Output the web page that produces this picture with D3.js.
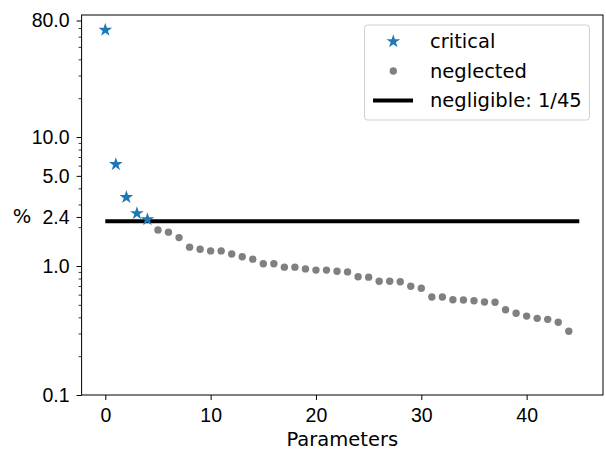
<!DOCTYPE html>
<html>
<head>
<meta charset="utf-8">
<script src="https://cdn.jsdelivr.net/npm/d3@7"></script>
<style>
  body { margin: 0; background: #fff; }
  svg { display: block; font-family: "DejaVu Sans", sans-serif; }
</style>
</head>
<body>
<script>
// parameter shares (%)
const criticalIdx = [0, 1, 2, 3, 4];
const criticalVals = [67.5, 6.14, 3.41, 2.56, 2.30];

const neglectedIdx = d3.range(5, 45);
const neglectedVals = [1.90, 1.83, 1.66, 1.40, 1.35, 1.31, 1.31, 1.24, 1.18, 1.13,
  1.04, 1.04, 0.98, 0.98, 0.95, 0.93, 0.93, 0.91, 0.90, 0.826,
  0.82, 0.761, 0.761, 0.756, 0.697, 0.672, 0.575, 0.575, 0.548, 0.545,
  0.538, 0.526, 0.524, 0.458, 0.43, 0.409, 0.393, 0.386, 0.366, 0.312];

const negligible = 100 / 45;
const xTicks = [0, 10, 20, 30, 40];
const yTicks = [0.1, 1.0, 2.4, 5.0, 10.0, 80.0];
const yMinor = [0.2, 0.3, 0.4, 0.5, 0.6, 0.7, 0.8, 0.9, 2, 3, 4, 6, 7, 8, 9, 20, 30, 40, 50, 60, 70];

const width = 606, height = 453;
const plotLeft = 81.6, plotRight = 603, plotTop = 15, plotBottom = 395;
const fs = 19.5;

const svg = d3.select("body").append("svg")
  .attr("width", width)
  .attr("height", height);

const x = d3.scaleLinear().domain([-2.25, 47.25]).range([plotLeft, plotRight]);
const y = d3.scaleLog().domain([0.1, 88.3]).range([plotBottom, plotTop]);

// x axis
const xAxis = svg.append("g")
  .attr("transform", `translate(0,${plotBottom})`)
  .call(d3.axisBottom(x).tickValues(xTicks).tickSize(5).tickPadding(8).tickFormat(d3.format("d")));
xAxis.select(".domain").remove();
xAxis.selectAll("text").attr("font-size", fs).attr("fill", "#000");
xAxis.selectAll("line").attr("stroke", "#000").attr("stroke-width", 1);

// y axis, major + minor
const yAxis = svg.append("g")
  .attr("transform", `translate(${plotLeft},0)`)
  .call(d3.axisLeft(y).tickValues(yTicks).tickSize(5).tickPadding(7).tickFormat(d3.format(".1f")));
yAxis.select(".domain").remove();
yAxis.selectAll("text").attr("font-size", fs).attr("fill", "#000");
yAxis.selectAll("line").attr("stroke", "#000").attr("stroke-width", 1);

const yAxisMinor = svg.append("g")
  .attr("transform", `translate(${plotLeft},0)`)
  .call(d3.axisLeft(y).tickValues(yMinor).tickSize(3).tickFormat(""));
yAxisMinor.select(".domain").remove();
yAxisMinor.selectAll("line").attr("stroke", "#000").attr("stroke-width", 0.8);

// "%" label next to the 2.4 tick
svg.append("text")
  .attr("x", 22)
  .attr("y", y(2.4))
  .attr("dy", "0.32em")
  .attr("text-anchor", "middle")
  .attr("font-size", fs)
  .text("%");

svg.append("text")
  .attr("x", (plotLeft + plotRight) / 2)
  .attr("y", 446)
  .attr("text-anchor", "middle")
  .attr("font-size", fs)
  .text("Parameters");

// negligible line
svg.append("line")
  .attr("x1", x(0)).attr("x2", x(45))
  .attr("y1", y(negligible)).attr("y2", y(negligible))
  .attr("stroke", "#000")
  .attr("stroke-width", 4);

// neglected
svg.selectAll(".neglected")
  .data(neglectedVals)
  .enter().append("circle")
  .attr("class", "neglected")
  .attr("cx", (d, i) => x(neglectedIdx[i]))
  .attr("cy", d => y(d))
  .attr("r", 3.7)
  .attr("fill", "#808080");

// critical stars
const starPath = r => {
  const pts = [];
  for (let k = 0; k < 10; k++) {
    const rr = k % 2 === 0 ? r : r * 0.381966;
    const a = -Math.PI / 2 + k * Math.PI / 5;
    pts.push([rr * Math.cos(a), rr * Math.sin(a)]);
  }
  return "M" + pts.map(p => p.join(",")).join("L") + "Z";
};

svg.selectAll(".critical")
  .data(criticalVals)
  .enter().append("path")
  .attr("class", "critical")
  .attr("d", starPath(7.2))
  .attr("transform", (d, i) => `translate(${x(criticalIdx[i])},${y(d)})`)
  .attr("fill", "#1f77b4");

// frame
svg.append("rect")
  .attr("x", plotLeft).attr("y", plotTop)
  .attr("width", plotRight - plotLeft).attr("height", plotBottom - plotTop)
  .attr("fill", "none")
  .attr("stroke", "#000")
  .attr("stroke-width", 1);

// legend
const legend = svg.append("g");
legend.append("rect")
  .attr("x", 364.5).attr("y", 25)
  .attr("width", 225).attr("height", 95)
  .attr("rx", 3)
  .attr("fill", "#fff")
  .attr("fill-opacity", 0.8)
  .attr("stroke", "#d0d0d0");

const rows = [41.5, 71, 100.5];
legend.append("path")
  .attr("d", starPath(7.2))
  .attr("transform", `translate(393.3,${rows[0]})`)
  .attr("fill", "#1f77b4");
legend.append("circle")
  .attr("cx", 393.3).attr("cy", rows[1]).attr("r", 3.7)
  .attr("fill", "#808080");
legend.append("line")
  .attr("x1", 373).attr("x2", 413)
  .attr("y1", rows[2]).attr("y2", rows[2])
  .attr("stroke", "#000").attr("stroke-width", 4);

legend.selectAll(".ltext")
  .data(["critical", "neglected", "negligible: 1/45"])
  .enter().append("text")
  .attr("x", 430)
  .attr("y", (d, i) => rows[i])
  .attr("dy", "0.35em")
  .attr("font-size", fs)
  .text(d => d);
</script>
</body>
</html>
